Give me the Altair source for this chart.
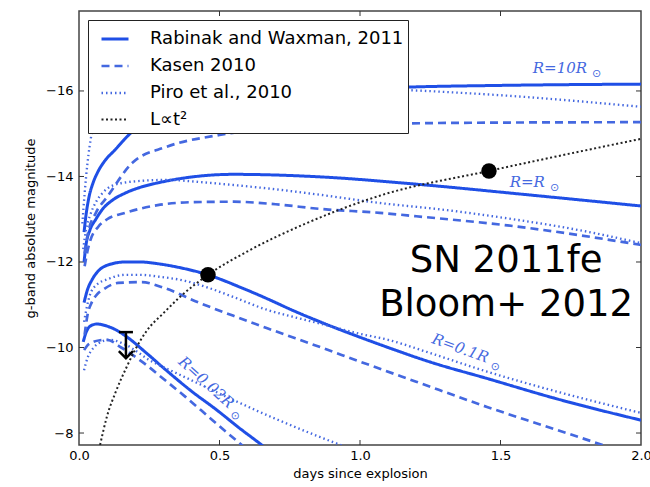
import altair as alt
import pandas as pd

# ---- light curves: days since explosion (T_*) and g-band absolute magnitude (M_*) ----
# Rabinak & Waxman 2011
T_RW_10 = [0.018, 0.025, 0.035, 0.05, 0.065, 0.09, 0.128, 0.19, 0.3, 0.5, 0.8, 1.17, 1.5, 2.0]
M_RW_10 = [-12.7, -13.1, -13.5, -13.85, -14.08, -14.35, -14.62, -15.05, -15.4, -15.75, -15.98, -16.09, -16.13, -16.16]
T_RW_1 = [0.018, 0.025, 0.039, 0.06, 0.082, 0.12, 0.164, 0.22, 0.28, 0.36, 0.55, 0.86, 1.2, 1.6, 2.0]
M_RW_1 = [-12.0, -12.4, -12.75, -13.0, -13.22, -13.45, -13.61, -13.75, -13.85, -13.95, -14.05, -13.99, -13.82, -13.57, -13.31]
T_RW_01 = [0.018, 0.03, 0.046, 0.07, 0.103, 0.164, 0.22, 0.28, 0.35, 0.459, 0.57, 0.67, 0.76, 0.858, 1.0, 1.1, 1.25, 1.45, 1.7, 2.0]
M_RW_01 = [-11.05, -11.35, -11.58, -11.8, -11.93, -12.0, -12.0, -11.96, -11.88, -11.7, -11.42, -11.14, -10.87, -10.6, -10.24, -10.0, -9.66, -9.28, -8.8, -8.3]
T_RW_002 = [0.015, 0.025, 0.04, 0.064, 0.1, 0.135, 0.17, 0.24, 0.31, 0.4, 0.49, 0.57, 0.65, 0.7]
M_RW_002 = [-10.13, -10.35, -10.5, -10.55, -10.5, -10.4, -10.25, -9.87, -9.47, -8.98, -8.54, -8.12, -7.72, -7.45]

# Kasen 2010
T_KA_10 = [0.02, 0.032, 0.06, 0.1, 0.19, 0.31, 0.5, 0.8, 1.17, 1.5, 2.0]
M_KA_10 = [-12.2, -12.68, -13.15, -13.52, -14.32, -14.69, -14.97, -15.15, -15.24, -15.26, -15.27]
T_KA_1 = [0.02, 0.03, 0.04, 0.068, 0.1, 0.164, 0.28, 0.41, 0.55, 0.7, 0.86, 1.07, 1.2, 1.545, 2.0]
M_KA_1 = [-11.9, -12.25, -12.5, -12.82, -13.0, -13.15, -13.33, -13.4, -13.41, -13.35, -13.24, -13.15, -13.07, -12.84, -12.4]
T_KA_01 = [0.02, 0.03, 0.045, 0.065, 0.085, 0.139, 0.224, 0.3, 0.43, 0.55, 0.67, 0.858, 1.0, 1.2, 1.452, 1.65, 1.85, 1.9]
M_KA_01 = [-10.3, -10.75, -11.05, -11.25, -11.35, -11.51, -11.53, -11.4, -11.04, -10.74, -10.45, -10.01, -9.67, -9.2, -8.61, -8.18, -7.75, -7.64]
T_KA_002 = [0.018, 0.03, 0.05, 0.075, 0.1, 0.15, 0.23, 0.3, 0.38, 0.47, 0.57, 0.62]
M_KA_002 = [-9.94, -10.05, -10.13, -10.17, -10.18, -10.0, -9.64, -9.27, -8.84, -8.33, -7.77, -7.5]

# Piro et al. 2010
T_PI_10 = [0.012, 0.02, 0.03, 0.045, 0.06, 0.1, 0.2, 0.5, 0.8, 1.17, 1.5, 2.0]
M_PI_10 = [-12.9, -13.6, -14.3, -15.0, -15.4, -15.8, -16.1, -16.15, -16.1, -16.02, -15.9, -15.63]
T_PI_1 = [0.015, 0.025, 0.04, 0.06, 0.082, 0.117, 0.19, 0.31, 0.43, 0.55, 0.7, 0.86, 1.07, 1.3, 1.545, 1.8, 2.0]
M_PI_1 = [-12.3, -12.75, -13.1, -13.4, -13.6, -13.78, -13.88, -13.92, -13.87, -13.8, -13.7, -13.57, -13.38, -13.22, -13.0, -12.72, -12.44]
T_PI_01 = [0.018, 0.028, 0.039, 0.06, 0.103, 0.164, 0.22, 0.28, 0.377, 0.459, 0.55, 0.67, 0.76, 0.858, 1.0, 1.1, 1.25, 1.45, 1.7, 2.0]
M_PI_01 = [-10.6, -10.95, -11.23, -11.45, -11.6, -11.7, -11.7, -11.66, -11.56, -11.4, -11.18, -10.88, -10.72, -10.56, -10.32, -10.18, -9.87, -9.44, -8.97, -8.47]
T_PI_002 = [0.018, 0.03, 0.05, 0.07, 0.11, 0.17, 0.25, 0.35, 0.45, 0.55, 0.7, 0.86, 1.0, 1.1]
M_PI_002 = [-9.47, -9.75, -9.98, -10.1, -10.18, -10.05, -9.71, -9.39, -9.08, -8.77, -8.33, -7.9, -7.55, -7.3]

# L ∝ t^2 rise
T_T2 = [0.075, 0.1, 0.13, 0.17, 0.2, 0.242, 0.3, 0.359, 0.459, 0.6, 0.8, 1.07, 1.459, 1.7, 2.0]
M_T2 = [-7.72, -8.4, -8.95, -9.55, -9.95, -10.4, -10.8, -11.18, -11.7, -12.25, -12.88, -13.55, -14.13, -14.47, -14.88]

# SN 2011fe detections and upper limit
DET_T = [0.459, 1.459]
DET_M = [-11.70, -14.13]
UL_T = [0.167]
UL_TOP = [-10.36]
UL_TIP = [-9.75]
UL_CAP_L = [0.142]
UL_CAP_R = [0.192]

# radius annotations (end of "R=..R" text)
RAD_TEXT = ["R=10R", "R=R", "R=0.1R", "R=0.02R"]
RAD_T = [1.808, 1.658, 1.456, 0.544]
RAD_M = [-16.54, -13.87, -9.75, -8.65]
RAD_ANGLE = [0, 0, 20, 42]

NOTE_TEXT = ["SN 2011fe", "Bloom+ 2012"]
NOTE_T = [1.52, 1.52]
NOTE_M = [-12.02, -10.99]

X_TICKS = [0.5, 1.0, 1.5]
Y_TICKS = [-16, -14, -12, -10, -8]

MODELS = ["Rabinak and Waxman, 2011", "Kasen 2010", "Piro et al., 2010", "L\u221dt\u00b2"]

curves = [
    (MODELS[0], "10", T_RW_10, M_RW_10), (MODELS[0], "1", T_RW_1, M_RW_1),
    (MODELS[0], "0.1", T_RW_01, M_RW_01), (MODELS[0], "0.02", T_RW_002, M_RW_002),
    (MODELS[1], "10", T_KA_10, M_KA_10), (MODELS[1], "1", T_KA_1, M_KA_1),
    (MODELS[1], "0.1", T_KA_01, M_KA_01), (MODELS[1], "0.02", T_KA_002, M_KA_002),
    (MODELS[2], "10", T_PI_10, M_PI_10), (MODELS[2], "1", T_PI_1, M_PI_1),
    (MODELS[2], "0.1", T_PI_01, M_PI_01), (MODELS[2], "0.02", T_PI_002, M_PI_002),
    (MODELS[3], "t2", T_T2, M_T2),
]
rows = []
for model, rad, ts, ms in curves:
    for t, m in zip(ts, ms):
        rows.append({"model": model, "curve": model + "|" + rad, "t": t, "mag": m})
lines_df = pd.DataFrame(rows)

W, H = 562, 434
xs = alt.Scale(domain=[0, 2], nice=False, zero=False)
ys = alt.Scale(domain=[-17.87, -7.72], nice=False, zero=False, reverse=True)

BLUE = "#1f4fe6"
LBLUE = "#4468e0"
FONT = "DejaVu Sans"

legend = alt.Legend(
    title=None, orient="none", legendX=9, legendY=9,
    fillColor="white", strokeColor="#222222", padding=4, symbolOffset=8,
    symbolType="stroke", symbolSize=729, labelFontSize=18, labelFont=FONT,
    labelColor="black", labelOffset=20, rowPadding=3, cornerRadius=0,
    labelLimit=400,
)

lines = alt.Chart(lines_df).mark_line(clip=True, interpolate="monotone").encode(
    x=alt.X("t:Q", scale=xs,
            axis=alt.Axis(title="days since explosion", values=[0, 0.5, 1.0, 1.5, 2.0],
                          format=".1f", ticks=False, grid=False, domain=False,
                          labelPadding=4, labelFontSize=13, titleFontSize=13,
                          titlePadding=5, labelFont=FONT, titleFont=FONT,
                          titleFontWeight="normal", labelColor="black",
                          labelFlush=False)),
    y=alt.Y("mag:Q", scale=ys,
            axis=alt.Axis(title="g-band absolute magnitude", values=Y_TICKS,
                          labelExpr="replace(format(datum.value, 'd'), '-', '\u2212')",
                          ticks=False, grid=False, domain=False, labelPadding=6,
                          labelFontSize=13, titleFontSize=13, titlePadding=8,
                          labelFont=FONT, titleFont=FONT, titleFontWeight="normal",
                          labelColor="black")),
    detail="curve:N",
    color=alt.Color("model:N", scale=alt.Scale(domain=MODELS, range=[BLUE, LBLUE, LBLUE, "#222222"]),
                    legend=legend),
    strokeDash=alt.StrokeDash("model:N", scale=alt.Scale(domain=MODELS,
                              range=[[1, 0], [8, 5], [1.5, 3], [2, 2.5]]), legend=legend),
    strokeWidth=alt.StrokeWidth("model:N", scale=alt.Scale(domain=MODELS, range=[3, 2, 1.5, 2.5]),
                                legend=legend),
    order="t:Q",
)

det = alt.Chart(pd.DataFrame({"t": DET_T, "mag": DET_M})).mark_circle(
    color="black", opacity=1, size=240
).encode(x=alt.X("t:Q", scale=xs), y=alt.Y("mag:Q", scale=ys))

ul_df = pd.DataFrame({"t": UL_T, "top": UL_TOP, "tip": UL_TIP, "l": UL_CAP_L, "r": UL_CAP_R})
ul_stem = alt.Chart(ul_df).mark_rule(color="black", strokeWidth=2.5).encode(
    x=alt.X("t:Q", scale=xs), y=alt.Y("top:Q", scale=ys), y2="tip:Q")
ul_cap = alt.Chart(ul_df).mark_rule(color="black", strokeWidth=2.5).encode(
    x=alt.X("l:Q", scale=xs), x2="r:Q", y=alt.Y("top:Q", scale=ys))
ul_head = alt.Chart(ul_df).mark_point(
    shape="M -1 -1 L 0 0 L 1 -1", filled=False, color="black", strokeWidth=2.5, size=200, opacity=1
).encode(x=alt.X("t:Q", scale=xs), y=alt.Y("tip:Q", scale=ys))

rad_df = pd.DataFrame({"text": RAD_TEXT, "t": RAD_T, "mag": RAD_M, "angle": RAD_ANGLE})
rad_main = alt.Chart(rad_df).mark_text(
    align="right", baseline="middle", font="DejaVu Serif", fontStyle="italic",
    fontSize=15, color=LBLUE
).encode(x=alt.X("t:Q", scale=xs), y=alt.Y("mag:Q", scale=ys), text="text:N",
         angle=alt.Angle("angle:Q", scale=None))
rad_sun = alt.Chart(rad_df).mark_text(
    align="left", baseline="middle", font="DejaVu Sans", fontSize=11, color=LBLUE, dx=5, dy=6,
    text="\u2299"
).encode(x=alt.X("t:Q", scale=xs), y=alt.Y("mag:Q", scale=ys),
         angle=alt.Angle("angle:Q", scale=None))

note = alt.Chart(pd.DataFrame({"text": NOTE_TEXT, "t": NOTE_T, "mag": NOTE_M})).mark_text(
    align="center", baseline="middle", font=FONT, fontSize=37, color="black"
).encode(x=alt.X("t:Q", scale=xs), y=alt.Y("mag:Q", scale=ys), text="text:N")

# inward tick marks on all four sides
yt = pd.DataFrame({"v": Y_TICKS})
xt = pd.DataFrame({"v": X_TICKS})
tick_style = dict(color="#333333", strokeWidth=1)
tk_left = alt.Chart(yt).mark_rule(**tick_style).encode(
    y=alt.Y("v:Q", scale=ys), x=alt.value(0), x2=alt.value(5))
tk_right = alt.Chart(yt).mark_rule(**tick_style).encode(
    y=alt.Y("v:Q", scale=ys), x=alt.value(W - 5), x2=alt.value(W))
tk_bottom = alt.Chart(xt).mark_rule(**tick_style).encode(
    x=alt.X("v:Q", scale=xs), y=alt.value(H - 5), y2=alt.value(H))
tk_top = alt.Chart(xt).mark_rule(**tick_style).encode(
    x=alt.X("v:Q", scale=xs), y=alt.value(0), y2=alt.value(5))

chart = alt.layer(
    tk_left, tk_right, tk_bottom, tk_top,
    lines, det, ul_stem, ul_cap, ul_head, rad_main, rad_sun, note,
).properties(
    width=W, height=H,
    autosize=alt.AutoSizeParams(type="none"),
    padding={"left": 79, "top": 11, "right": 9, "bottom": 42},
    background="white",
).configure_view(
    stroke="#444444", strokeWidth=1.5
)

chart.save("out.html", embed_options={"renderer": "svg", "actions": False})
